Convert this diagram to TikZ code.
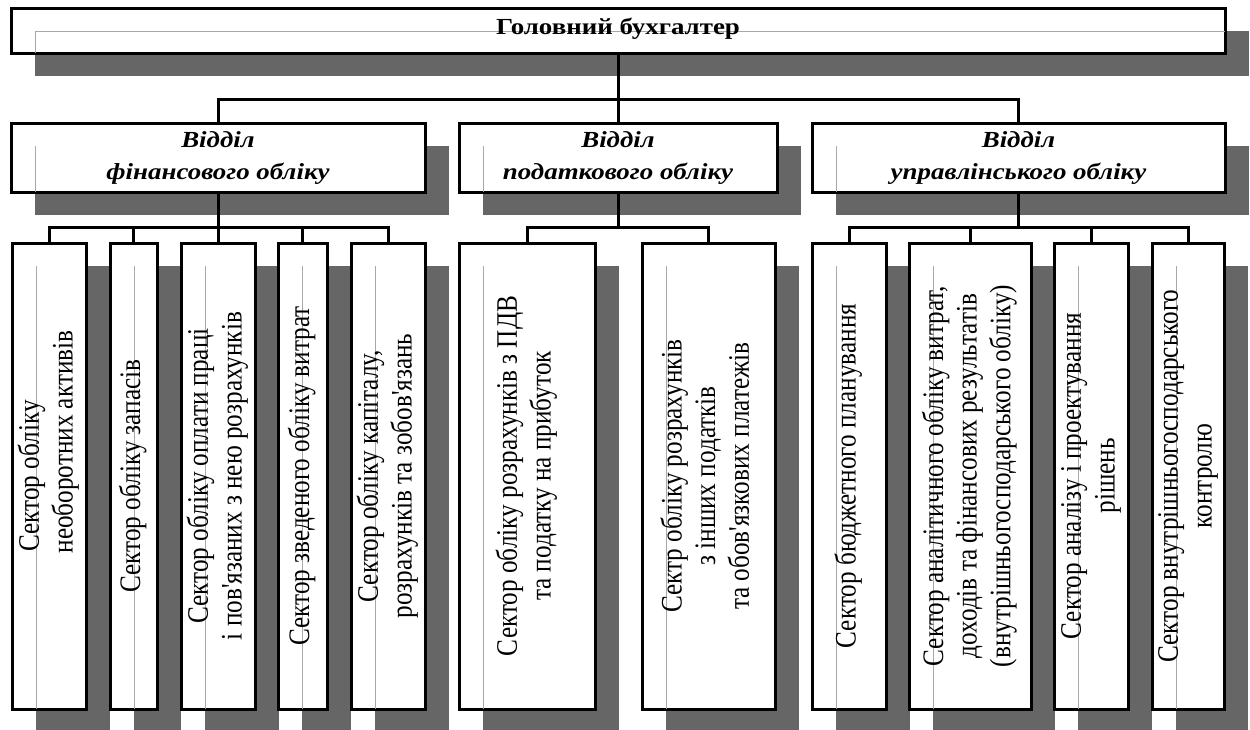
\documentclass[tikz,border=0pt]{standalone}
\usepackage{fontspec}
\usepackage{graphicx}
\setmainfont{Liberation Serif}[Ligatures=TeXOff]
\usetikzlibrary{fit}
\pgfdeclarelayer{bg}
\pgfsetlayers{bg,main}
\definecolor{shadowgray}{HTML}{666666}
\definecolor{guidegray}{HTML}{A8A8A8}

\tikzset{
  unitbox/.style={draw=black, line width=3pt, fill=white, inner sep=0pt},
  guide/.style={draw=guidegray, line width=0.9pt},
  link/.style={draw=black, line width=3pt},
  chieftext/.style={font=\bfseries\fontsize{23}{26}\selectfont, inner sep=0pt},
  depttext/.style={inner sep=0pt, font=\bfseries\itshape\fontsize{23}{32}\selectfont},
  secttext/.style={rotate=90, inner sep=0pt, font=\fontsize{25.2}{28.5}\selectfont},
}

% horizontal caption: lines centred, glyphs widened
\newcommand\hcaption[1]{\scalebox{1.17}[1]{\begin{tabular}{@{}c@{}}#1\end{tabular}}}
% vertical sector caption: lines centred, glyphs widened across the column
\newcommand\vcaption[1]{\scalebox{1}[1.18]{\begin{tabular}{@{}c@{}}#1\end{tabular}}}

% box with a drop shadow and the thin guide line along the shadow's left edge
\newcommand\orgunit[5]{%
  \begin{pgfonlayer}{bg}
    \fill[shadowgray] (#2+24,#3+23) rectangle (#4+24,#5+23);
  \end{pgfonlayer}
  \node[unitbox, fit={(#2,#3) (#4,#5)}] (#1) {};
  \draw[guide] (#2+24,#3+23) -- (#2+24,#5);
}

\begin{document}
\begin{tikzpicture}[x=1pt, y=-1pt]
\useasboundingbox (0,0) rectangle (1250,729);

% chief accountant
\orgunit{chief}{11}{8}{1225}{53}
\draw[guide] (35,31) -- (1225,31);
\node[chieftext] (chiefT) at ([yshift=1pt]chief.center) {\hcaption{Головний бухгалтер}};

% departments
\orgunit{fin}{11}{123}{425}{192}
\orgunit{tax}{459}{123}{777}{192}
\orgunit{mgmt}{812}{123}{1225}{192}
\node[depttext] (finT) at (fin.center) {\hcaption{Відділ\\фінансового обліку}};
\node[depttext] (taxT) at (tax.center) {\hcaption{Відділ\\податкового обліку}};
\node[depttext] (mgmtT) at (mgmt.center) {\hcaption{Відділ\\управлінського обліку}};

% sectors
\orgunit{s1}{12}{243}{86}{709}
\orgunit{s2}{110}{243}{157}{709}
\orgunit{s3}{181}{243}{255}{709}
\orgunit{s4}{278}{243}{327}{709}
\orgunit{s5}{351}{243}{425}{709}
\orgunit{s6}{459}{243}{595}{709}
\orgunit{s7}{642}{243}{775}{709}
\orgunit{s8}{812}{243}{886}{709}
\orgunit{s9}{909}{243}{1031}{709}
\orgunit{s10}{1054}{243}{1128}{709}
\orgunit{s11}{1152}{243}{1224}{709}

\node[secttext] (t1) at (s1.center) {\vcaption{Сектор обліку\\\hspace*{68pt}необоротних активів}};
\node[secttext] (t2) at (s2.center) {\vcaption{Сектор обліку запасів}};
\node[secttext] (t3) at (s3.center) {\vcaption{Сектор обліку оплати праці\\і пов'язаних з нею розрахунків}};
\node[secttext] (t4) at (s4.center) {\vcaption{Сектор зведеного обліку витрат}};
\node[secttext] (t5) at (s5.center) {\vcaption{Сектор обліку капіталу,\\розрахунків та зобов'язань}};
\node[secttext] (t6) at (s6.center) {\vcaption{Сектор обліку розрахунків з ПДВ\\та податку на прибуток}};
\node[secttext] (t7) at (s7.center) {\vcaption{Сектр обліку розрахунків\\з інших податків\\та обов'язкових платежів}};
\node[secttext] (t8) at (s8.center) {\vcaption{Сектор бюджетного планування}};
\node[secttext] (t9) at (s9.center) {\vcaption{Сектор аналітичного обліку витрат,\\доходів та фінансових результатів\\(внутрішньогосподарського обліку)}};
\node[secttext] (t10) at (s10.center) {\vcaption{Сектор аналізу і проектування\\рішень}};
\node[secttext] (t11) at (s11.center) {\vcaption{Сектор внутрішньогосподарського\\контролю}};

% connectors
\coordinate (topbus) at (618,99);
\coordinate (finbus) at (218,227);
\coordinate (taxbus) at (618,227);
\coordinate (mgmtbus) at (1018.5,227);

\draw[link] (chief.south) -- (topbus) -- (tax.north);
\draw[link] (fin.north) |- (topbus) -| (mgmt.north);

\draw[link] (fin.south) -- (finbus) -- (s3.north);
\draw[link] (s1.north) |- (finbus) -| (s5.north);
\draw[link] (s2.north) -- (s2.north |- finbus);
\draw[link] (s4.north) -- (s4.north |- finbus);

\draw[link] (tax.south) -- (taxbus);
\draw[link] (s6.north) |- (taxbus) -| (s7.north);

\draw[link] (mgmt.south) -- (mgmtbus);
\draw[link] (s8.north) |- (mgmtbus) -| (s11.north);
\draw[link] (s9.north) -- (s9.north |- mgmtbus);
\draw[link] (s10.north) -- (s10.north |- mgmtbus);
\end{tikzpicture}
\end{document}
